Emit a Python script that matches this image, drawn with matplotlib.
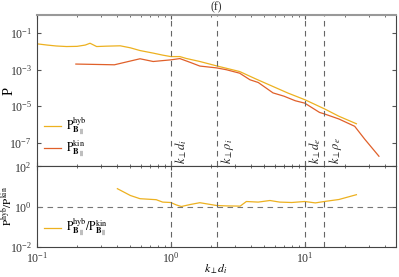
import matplotlib
matplotlib.use("Agg")
import matplotlib.pyplot as plt
import numpy as np

plt.rcParams["font.family"] = ["Liberation Serif", "DejaVu Serif"]
plt.rcParams["mathtext.fontset"] = "stix"

# spectra (log10 of P)
k_hyb = [0.1, 0.12, 0.14, 0.167, 0.2, 0.23, 0.25, 0.28, 0.33, 0.42, 0.5, 0.59, 0.74, 0.87,
         1.0, 1.17, 1.3, 1.65, 2.2, 3.27, 4.3, 5.8, 7.5, 10, 14, 18, 24.3]
logP_hyb = [-1.58, -1.65, -1.70, -1.73, -1.72, -1.65, -1.55, -1.73, -1.71, -1.69, -1.80, -1.95,
            -2.09, -2.20, -2.28, -2.28, -2.38, -2.55, -2.79, -3.10, -3.50, -3.92, -4.28, -4.64,
            -5.14, -5.55, -5.96]

k_kin = [0.196, 0.38, 0.59, 0.74, 1.0, 1.17, 1.4, 1.65, 2.2, 2.6, 3.27, 3.9, 4.5, 5.8, 7.0,
         8.5, 10, 12.9, 14, 18, 23.6, 28, 35.8]
logP_kin = [-2.69, -2.73, -2.40, -2.55, -2.46, -2.39, -2.60, -2.80, -2.90, -3.00, -3.19, -3.55,
            -3.70, -4.27, -4.45, -4.70, -4.83, -5.34, -5.42, -5.70, -6.10, -6.80, -7.74]

k_ratio = [0.4, 0.5, 0.59, 0.78, 0.87, 1.0, 1.1, 1.2, 1.4, 1.65, 2.2, 2.6, 3.3, 3.67, 4.5,
           5.5, 6.5, 8, 10, 12, 14, 18, 24.3]
log_ratio = [0.89, 0.55, 0.39, 0.34, 0.22, 0.20, 0.08, 0.0, 0.10, 0.19, 0.05, 0.03, 0.02, 0.25,
             0.22, 0.30, 0.22, 0.20, 0.25, 0.18, 0.25, 0.35, 0.59]

# characteristic scales
scale_k = [1.0, 2.2, 10.0, 14.0]
scale_names = [r"$k_\perp d_i$", r"$k_\perp \rho_i$", r"$k_\perp d_e$", r"$k_\perp \rho_e$"]

c_hyb = "#EDB120"
c_kin = "#E0602A"

fig = plt.figure(figsize=(3.99, 2.77), dpi=100)
ax1 = fig.add_axes([0.092, 0.399, 0.9005, 0.547])
ax2 = fig.add_axes([0.092, 0.110, 0.9005, 0.289])

ax1.plot(k_hyb, 10 ** np.array(logP_hyb), color=c_hyb, lw=0.9, label=r"$\mathrm{P}^{\mathrm{hyb}}_{\mathbf{B}_\parallel}$")
ax1.plot(k_kin, 10 ** np.array(logP_kin), color=c_kin, lw=0.9, label=r"$\mathrm{P}^{\mathrm{kin}}_{\mathbf{B}_\parallel}$")
ax2.plot(k_ratio, 10 ** np.array(log_ratio), color=c_hyb, lw=0.9,
         label=r"$\mathrm{P}^{\mathrm{hyb}}_{\mathbf{B}_\parallel}/\mathrm{P}^{\mathrm{kin}}_{\mathbf{B}_\parallel}$")
ax2.axhline(1.0, color="#777777", ls=(0, (5, 4)), lw=0.8)

for ax in (ax1, ax2):
    for k in scale_k:
        ax.axvline(k, color="#666666", ls=(0, (5, 4)), lw=0.8)
    ax.set_xscale("log")
    ax.set_yscale("log")
    ax.set_xlim(0.1, 48)
    ax.tick_params(which="both", direction="in", top=True, right=True, labelsize=8.5,
                   color="#555555", labelcolor="#333333")
    ax.tick_params(which="major", length=3)
    ax.tick_params(which="minor", length=1.6)
    for s in ax.spines.values():
        s.set_color("#444444")
        s.set_linewidth(0.8)

for k, name in zip(scale_k, scale_names):
    ax1.text(k * 1.05, 7e-9, name, rotation=90, fontsize=9, ha="left", va="bottom", color="#222222")

ax1.spines["top"].set_color("#999999")
ax1.spines["top"].set_linewidth(1.5)
ax1.set_ylim(5e-9, 1)
ax1.set_yticks([1e-1, 1e-3, 1e-5, 1e-7])
ax1.tick_params(labelbottom=False)
ax1.set_ylabel("P", fontsize=10.5)
ax1.yaxis.set_label_coords(-0.058, 0.5)
ax1.set_title("(f)", fontsize=8.5, pad=3, color="#333333")
ax1.legend(loc="lower left", frameon=False, fontsize=8.5, handlelength=1.5, handletextpad=0.4,
           borderaxespad=0.2, labelspacing=0.1)

ax2.set_ylim(1e-2, 1e2)
ax2.set_yticks([1e-2, 1e0, 1e2])
ax2.set_xticks([0.1, 1, 10])
ax2.set_xlabel(r"$k_\perp d_i$", fontsize=8.5)
ax2.xaxis.set_label_coords(0.5, -0.2)
ax2.set_ylabel(r"$\mathrm{P}^{\mathrm{hyb}}/\mathrm{P}^{\mathrm{kin}}$", fontsize=8)
ax2.yaxis.set_label_coords(-0.064, 0.5)
ax2.legend(loc="lower left", frameon=False, fontsize=8.5, handlelength=1.5, handletextpad=0.4,
           borderaxespad=0.2)

fig.savefig("out.png", dpi=100)
